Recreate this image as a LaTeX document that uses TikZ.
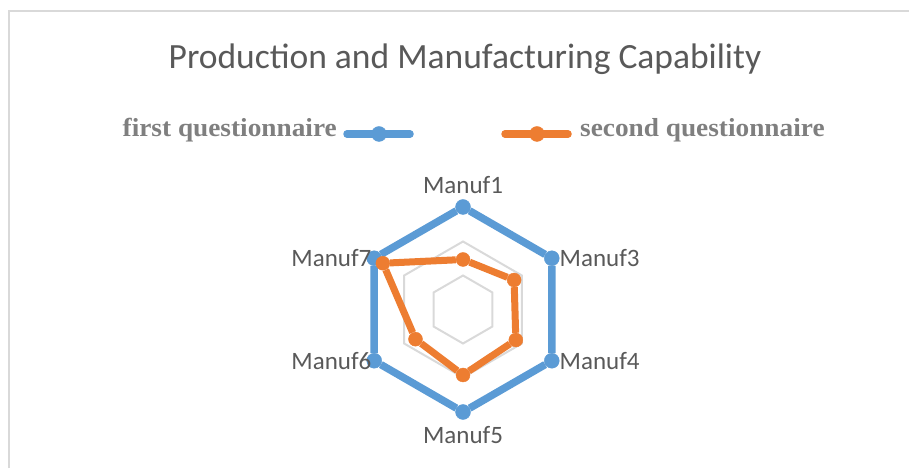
\documentclass[tikz,border=0pt]{standalone}
\usepackage{fontspec}
\setmainfont{Carlito}
\newfontfamily\legfont[FakeStretch=1.05]{Liberation Serif}
\usetikzlibrary{positioning}
\definecolor{chartblue}{HTML}{5B9BD5}
\definecolor{chartorange}{HTML}{ED7D31}
\definecolor{txtgray}{HTML}{595959}
\definecolor{leggray}{HTML}{7F7F7F}
\definecolor{gridgray}{HTML}{D9D9D9}

\begin{document}
\begin{tikzpicture}
  [x=1pt,y=1pt,
  bluedot/.style={circle,draw=chartblue,fill=chartblue,inner sep=0pt,minimum size=15pt},
  orangedot/.style={circle,draw=chartorange,fill=chartorange,inner sep=0pt,minimum size=14pt},
  blueline/.style={chartblue,line width=7.5pt,line join=round},
  orangeline/.style={chartorange,line width=7pt,line join=round},
  gridline/.style={gridgray,line width=2pt},
  lab/.style={text=txtgray,inner sep=1pt,font=\fontsize{25}{28}\selectfont},
  legtext/.style={text=leggray,inner sep=0pt,font=\legfont\bfseries\fontsize{26}{30}\selectfont}]
  \useasboundingbox (0,0) rectangle (909,468);
  \draw [gridgray,line width=2pt] (9,0) -- (9,457) -- (909,457);

  \node[text=txtgray,anchor=base,font=\fontsize{35.5}{40}\selectfont] (title) at (465,399) {Production and Manufacturing Capability};

  % legend
  \node[legtext,anchor=base east] (leg1) at (337,331) {first questionnaire};
  \coordinate (bl1) at (347,334);
  \coordinate (bl2) at (410,334);
  \draw [blueline,line cap=round] (bl1) -- (bl2);
  \node[bluedot] (bleg) at (379,334) {};
  \coordinate (ol1) at (505,334);
  \coordinate (ol2) at (568,334);
  \draw [orangeline,line width=7.5pt,line cap=round] (ol1) -- (ol2);
  \node[orangedot,minimum size=15pt] (oleg) at (537,334) {};
  \node[legtext,anchor=base west] (leg2) at (580,331) {second questionnaire};

  \coordinate (c) at (463,158.5);
  \foreach \r in {34,68,102.5}
    \draw [gridline] ([shift={(90:\r)}]c) -- ([shift={(30:\r)}]c) -- ([shift={(-30:\r)}]c)
      -- ([shift={(-90:\r)}]c) -- ([shift={(210:\r)}]c) -- ([shift={(150:\r)}]c) -- cycle;

  \node[bluedot,label={[lab,label distance=4pt]above:Manuf1}] (b1) at ([shift={(90:102.5)}]c) {};
  \node[bluedot,label={[lab,label distance=-1pt]right:Manuf3}] (b3) at ([shift={(30:102.5)}]c) {};
  \node[bluedot,label={[lab,label distance=-1pt]right:Manuf4}] (b4) at ([shift={(-30:102.5)}]c) {};
  \node[bluedot,label={[lab,label distance=5pt]below:Manuf5}] (b5) at ([shift={(-90:102.5)}]c) {};
  \node[bluedot,label={[lab,label distance=-6pt]left:Manuf6}] (b6) at ([shift={(210:102.5)}]c) {};
  \node[bluedot,label={[lab,label distance=-6pt]left:Manuf7}] (b7) at ([shift={(150:102.5)}]c) {};
  \draw [blueline] (b1) -- (b3) -- (b4) -- (b5) -- (b6) -- (b7) -- (b1);

  \node[orangedot] (o1) at ([shift={(90:50)}]c) {};
  \node[orangedot] (o3) at ([shift={(30:59)}]c) {};
  \node[orangedot] (o4) at ([shift={(-30:61)}]c) {};
  \node[orangedot] (o5) at ([shift={(-90:65.5)}]c) {};
  \node[orangedot] (o6) at ([shift={(212:56)}]c) {};
  \node[orangedot] (o7) at ([shift={(150:92.5)}]c) {};
  \draw [orangeline] (o1) -- (o3) -- (o4) -- (o5) -- (o6) -- (o7) -- (o1);
\end{tikzpicture}
\end{document}
